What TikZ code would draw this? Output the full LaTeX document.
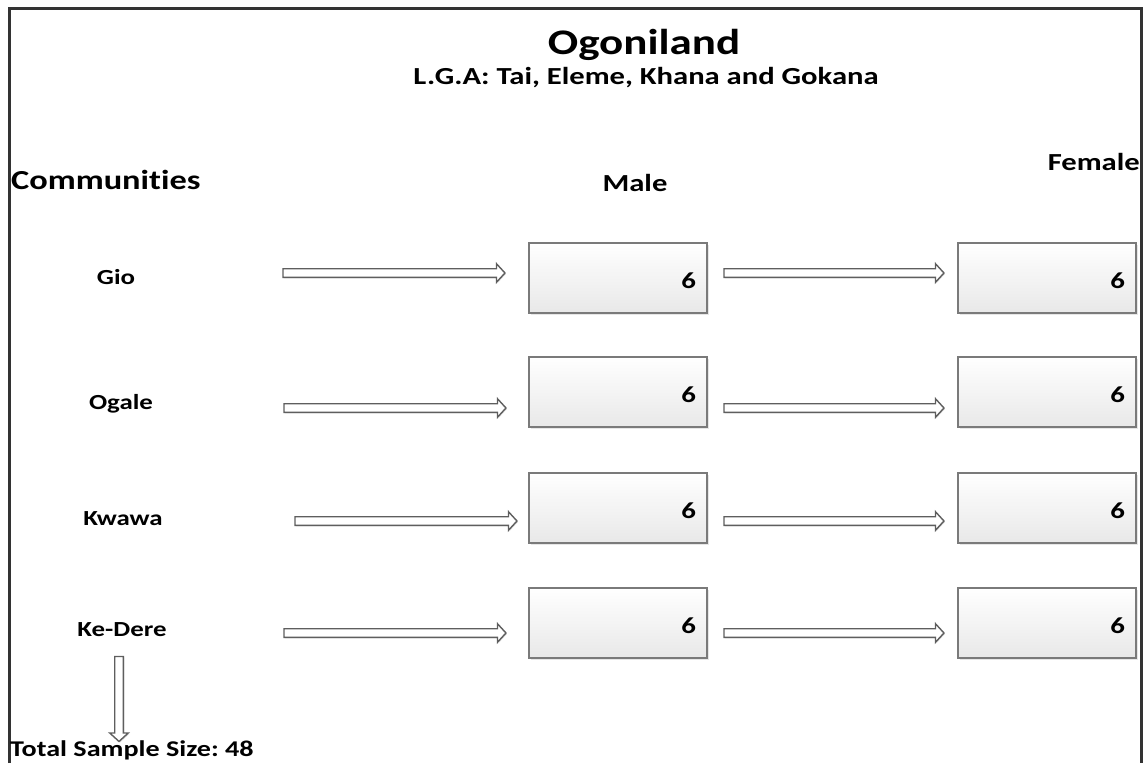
\documentclass[tikz,border=0pt]{standalone}
\usepackage{fontspec}
\setmainfont{Carlito}[FakeStretch=1.25, Ligatures=NoCommon]
\usetikzlibrary{shapes.arrows,shadows}
\definecolor{frame}{HTML}{333333}
\definecolor{boxline}{HTML}{7A7A7A}
\definecolor{arrline}{HTML}{5E5E5E}
\frenchspacing
\tikzset{
  txt/.style={inner sep=0pt, font=\bfseries},
  countbox/.style={draw=boxline, line width=1.3pt, top color=white, bottom color=black!9,
    minimum width=178pt, minimum height=70pt, inner xsep=11pt, text width=156pt, align=right,
    font=\bfseries\fontsize{23}{25}\selectfont, text height=20pt, text depth=0pt,
    drop shadow={opacity=0.2, shadow xshift=1.5pt, shadow yshift=-1.5pt}},
  harrow/.style={single arrow, draw=arrline, fill=white, line width=1.4pt, inner sep=3.6pt,
    single arrow head extend=5pt, single arrow tip angle=95, minimum height=220pt,
    drop shadow={opacity=0.25, shadow xshift=1pt, shadow yshift=-1pt}},
}
\begin{document}
\begin{tikzpicture}[x=1pt,y=-1pt]
\useasboundingbox (0,0) rectangle (1143,763);
% frame
\draw[frame, line width=3pt] (9,763) -- (9,8) -- (1141,8) -- (1141,763);
% titles
\node[txt, anchor=base, font=\bfseries\fontsize{36}{40}\selectfont] (title) at (644,54) {Ogoniland};
\node[txt, anchor=base, font=\bfseries\fontsize{24.5}{27}\selectfont] (sub) at (646,84) {L.G.A: Tai, Eleme, Khana and Gokana};
\node[txt, anchor=base west, font=\bfseries\fontsize{27.5}{30}\selectfont] (comm) at (11,189) {Communities};
\node[txt, anchor=base, font=\bfseries\fontsize{24.5}{27}\selectfont] (male) at (635,191) {Male};
\node[txt, anchor=base east, font=\bfseries\fontsize{24.5}{27}\selectfont] (female) at (1140,170) {Female};
% community labels
\node[txt, anchor=base, font=\bfseries\fontsize{21.5}{24}\selectfont] (gio) at (116,284) {Gio};
\node[txt, anchor=base, font=\bfseries\fontsize{21.5}{24}\selectfont] (ogale) at (121,409) {Ogale};
\node[txt, anchor=base, font=\bfseries\fontsize{21.5}{24}\selectfont] (kwawa) at (123,525) {Kwawa};
\node[txt, anchor=base, font=\bfseries\fontsize{21.5}{24}\selectfont] (kedere) at (122,636) {Ke-Dere};
% boxes
\node[countbox] (m1) at (618,278) {6};
\node[countbox] (m2) at (618,392) {6};
\node[countbox] (m3) at (618,508) {6};
\node[countbox] (m4) at (618,623) {6};
\node[countbox] (f1) at (1047,278) {6};
\node[countbox] (f2) at (1047,392) {6};
\node[countbox] (f3) at (1047,508) {6};
\node[countbox] (f4) at (1047,623) {6};
% arrows
\node[harrow, minimum height=222pt] (a1) at (392,273) {};
\node[harrow, minimum height=222pt] (a2) at (393,408) {};
\node[harrow, minimum height=222pt] (a3) at (404,521) {};
\node[harrow, minimum height=222pt] (a4) at (393,633) {};
\node[harrow] (b1) at (832,273) {};
\node[harrow] (b2) at (832,408) {};
\node[harrow] (b3) at (832,521) {};
\node[harrow] (b4) at (832,633) {};
\node[harrow, shape border rotate=270, minimum height=85pt] (down) at (119,697) {};
\node[txt, anchor=base west, font=\bfseries\fontsize{22.5}{25}\selectfont] (total) at (10,756) {Total Sample Size: 48};
\end{tikzpicture}
\end{document}
